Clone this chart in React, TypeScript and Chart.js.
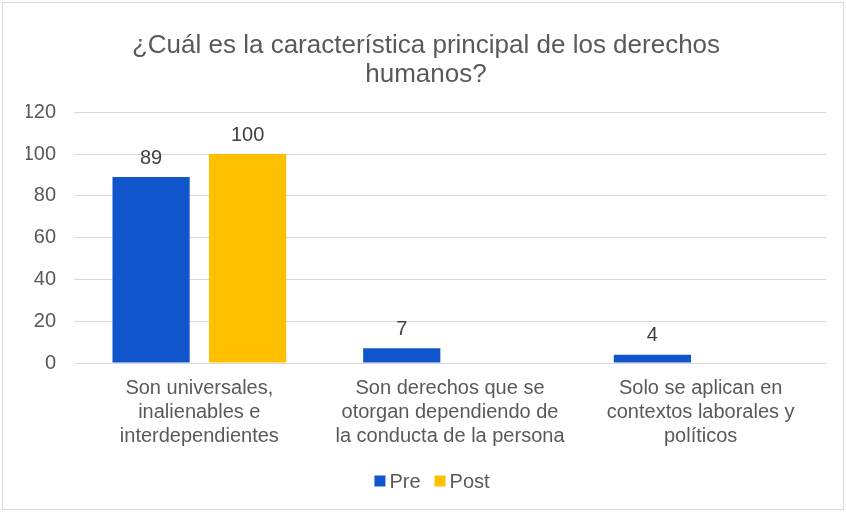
import React, { useEffect, useRef } from "react";
import { Chart, registerables } from "chart.js";

Chart.register(...registerables);

const categories: string[][] = [
  ["Son universales,", "inalienables e", "interdependientes"],
  ["Son derechos que se", "otorgan dependiendo de", "la conducta de la persona"],
  ["Solo se aplican en", "contextos laborales y", "políticos"],
];
const preValues = [89, 7, 4];
const postValues = [100, 0, 0];
const titleLines = ["¿Cuál es la característica principal de los derechos", "humanos?"];

const FONT = "'Liberation Sans', Arial, sans-serif";

const valueLabels = {
  id: "valueLabels",
  afterDatasetsDraw(chart: any) {
    const ctx = chart.ctx;
    ctx.save();
    ctx.font = `20px ${FONT}`;
    ctx.fillStyle = "#404040";
    ctx.textAlign = "center";
    ctx.textBaseline = "middle";
    chart.data.datasets.forEach((ds: any, i: number) => {
      const meta = chart.getDatasetMeta(i);
      meta.data.forEach((bar: any, j: number) => {
        const v = ds.data[j];
        if (!v) return;
        ctx.fillText(String(v), bar.x, bar.y - 19);
      });
    });
    ctx.restore();
  },
};

// Compact legend drawn from the datasets (Excel style: small gap between box and text)
const compactLegend = {
  id: "compactLegend",
  afterDraw(chart: any) {
    const ctx = chart.ctx;
    ctx.save();
    ctx.font = `20px ${FONT}`;
    ctx.textBaseline = "middle";
    ctx.textAlign = "left";
    const box = 11;
    const gap = 4;
    const itemGap = 14;
    const items = chart.data.datasets.map((ds: any) => ({
      label: ds.label,
      color: ds.backgroundColor,
      w: box + gap + ctx.measureText(ds.label).width,
    }));
    const total = items.reduce((s: number, it: any) => s + it.w, 0) + itemGap * (items.length - 1);
    const cy = 481;
    let x = 432 - total / 2;
    items.forEach((it: any) => {
      ctx.fillStyle = it.color;
      ctx.fillRect(x, cy - box / 2, box, box);
      ctx.fillStyle = "#595959";
      ctx.fillText(it.label, x + box + gap, cy + 1);
      x += it.w + itemGap;
    });
    ctx.restore();
  },
};

const frame = {
  id: "frame",
  beforeDraw(chart: any) {
    const ctx = chart.ctx;
    ctx.save();
    ctx.fillStyle = "#ffffff";
    ctx.fillRect(0, 0, chart.width, chart.height);
    ctx.strokeStyle = "#d9d9d9";
    ctx.lineWidth = 1;
    ctx.strokeRect(2.5, 2.5, chart.width - 5, chart.height - 5);
    ctx.restore();
  },
};

export default function App() {
  const ref = useRef<HTMLCanvasElement>(null);
  useEffect(() => {
    document.body.style.margin = "0";
    const chart = new Chart(ref.current!, {
      type: "bar",
      data: {
        labels: categories,
        datasets: [
          {
            label: "Pre",
            data: preValues,
            backgroundColor: "#1155CC",
            barPercentage: 0.8,
            categoryPercentage: 0.77,
          },
          {
            label: "Post",
            data: postValues,
            backgroundColor: "#FFC000",
            barPercentage: 0.8,
            categoryPercentage: 0.77,
          },
        ],
      },
      options: {
        animation: false,
        responsive: false,
        maintainAspectRatio: false,
        layout: { padding: { left: 26, right: 20, top: 16, bottom: 59 } },
        plugins: {
          title: {
            display: true,
            text: titleLines,
            color: "#595959",
            font: { family: FONT, size: 26, weight: "normal", lineHeight: 1.1 },
            padding: { top: 16, bottom: 23 },
          },
          legend: { display: false },
          tooltip: { enabled: false },
        },
        scales: {
          x: {
            grid: { display: false },
            border: { display: false },
            ticks: {
              color: "#595959",
              font: { family: FONT, size: 20, lineHeight: 1.2 },
              maxRotation: 0,
              padding: 5,
            },
          },
          y: {
            min: 0,
            max: 120,
            afterFit: (s: any) => {
              s.width = 48;
            },
            grid: { color: "#d9d9d9", lineWidth: 1, drawTicks: false },
            border: { display: false },
            ticks: {
              stepSize: 20,
              color: "#595959",
              font: { family: FONT, size: 20 },
              padding: 18,
            },
          },
        },
      },
      plugins: [frame, valueLabels, compactLegend],
    });
    return () => chart.destroy();
  }, []);
  return <canvas ref={ref} width={846} height={512} style={{ display: "block" }} />;
}
